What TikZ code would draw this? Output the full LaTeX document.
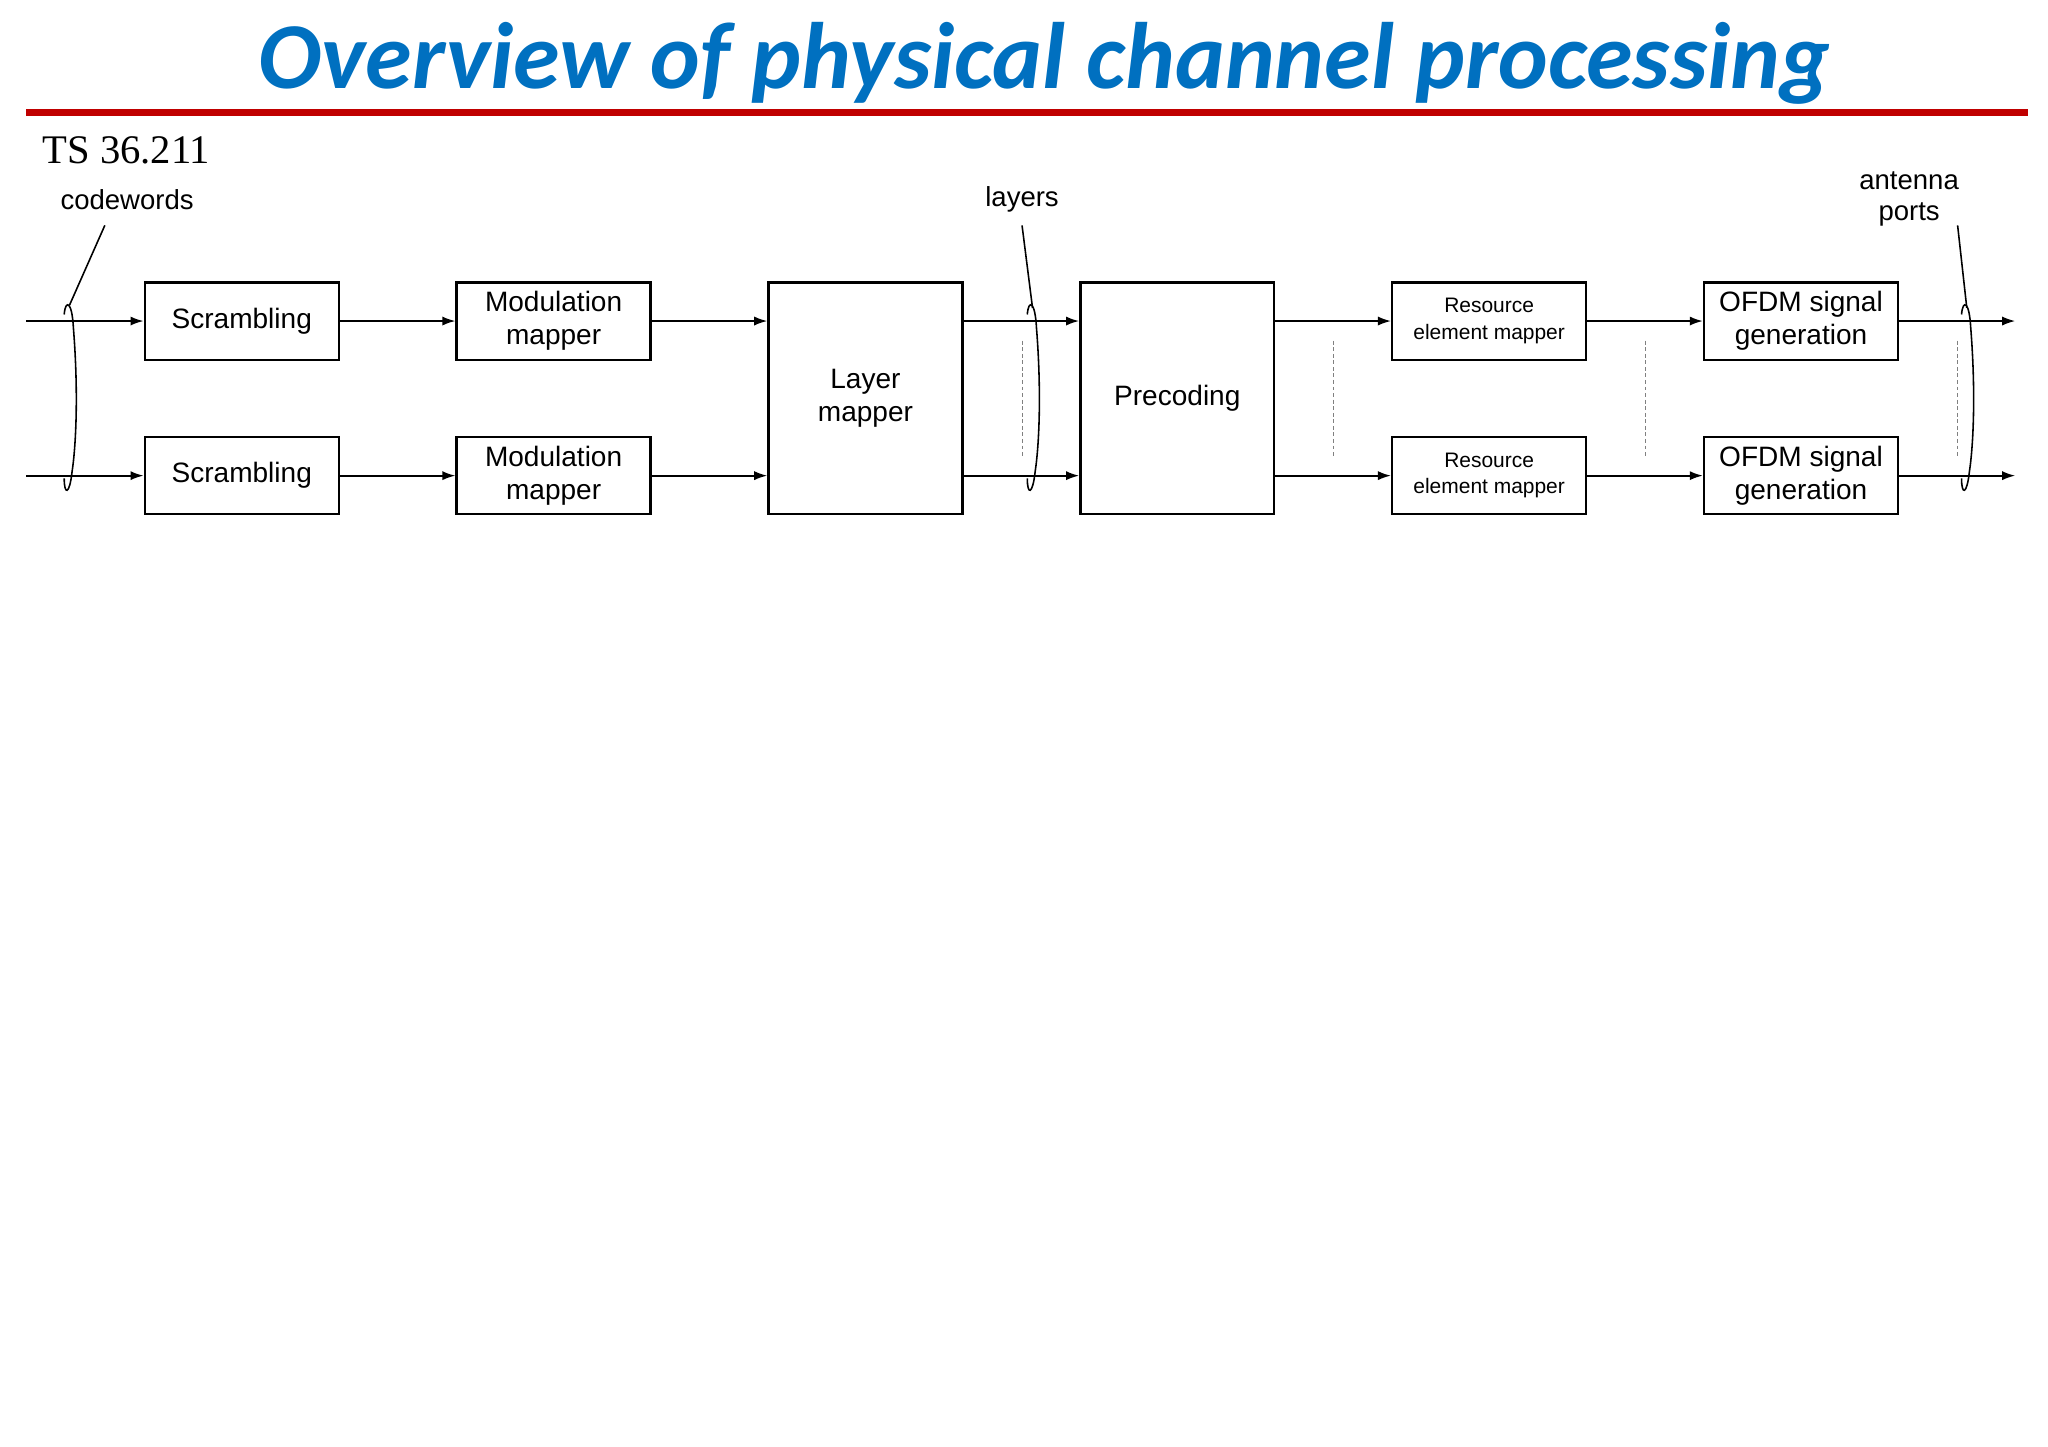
\documentclass[tikz,border=0pt]{standalone}
\usepackage{fontspec}
\setmainfont{Liberation Sans}
\newfontfamily\titlef{Carlito}
\newfontfamily\serf{Liberation Serif}
\usetikzlibrary{arrows.meta}
\definecolor{tblue}{RGB}{0,112,192}
\definecolor{tred}{RGB}{192,0,0}
\begin{document}
\begin{tikzpicture}[x=0.5pt,y=-0.5pt,
  box/.style={draw,line width=0.9pt,minimum width=74pt,minimum height=29.5pt,inner sep=0pt,align=center,font=\fontsize{10.7}{12.5}\selectfont},
  big/.style={box,minimum height=88.5pt},
  small/.style={box,font=\fontsize{8}{10}\selectfont},
  ar/.style={-{Latex[length=5pt,width=3.5pt]},line width=0.7pt},
  lbl/.style={font=\fontsize{10.5}{12}\selectfont,align=center,inner sep=0pt}]
\useasboundingbox (0,0) rectangle (1563,1104);
\node[font=\titlef\bfseries\itshape\fontsize{36}{38}\selectfont,text=tblue] (title) at (797,48) {Overview of physical channel processing};
\draw[tred,line width=2.5pt] (20,86) -- (1548,86);
\node[font=\serf\fontsize{15.5}{17}\selectfont,anchor=west,inner sep=0pt] (ts) at (32,115) {TS 36.211};
% boxes
\node[box] (s1) at (184.5,245) {Scrambling};
\node[box] (s2) at (184.5,363) {Scrambling};
\node[box] (m1) at (422.5,245) {Modulation\\mapper};
\node[box] (m2) at (422.5,363) {Modulation\\mapper};
\node[big] (lm) at (660.5,304) {Layer\\mapper};
\node[big] (pc) at (898.5,304) {Precoding};
\node[small] (r1) at (1136.5,245) {Resource\\element mapper};
\node[small] (r2) at (1136.5,363) {Resource\\element mapper};
\node[box] (o1) at (1374.5,245) {OFDM signal\\generation};
\node[box] (o2) at (1374.5,363) {OFDM signal\\generation};
\coordinate (i1) at (20,245); \coordinate (i2) at (20,363);
\coordinate (e1) at (1538,245); \coordinate (e2) at (1538,363);
% arrows
\draw[ar] (i1) -- (s1); \draw[ar] (i2) -- (s2);
\draw[ar] (s1) -- (m1); \draw[ar] (s2) -- (m2);
\draw[ar] (m1) -- (lm.west|-m1); \draw[ar] (m2) -- (lm.west|-m2);
\draw[ar] (lm.east|-m1) -- (pc.west|-m1); \draw[ar] (lm.east|-m2) -- (pc.west|-m2);
\draw[ar] (pc.east|-r1) -- (r1); \draw[ar] (pc.east|-r2) -- (r2);
\draw[ar] (r1) -- (o1); \draw[ar] (r2) -- (o2);
\draw[ar] (o1) -- (e1); \draw[ar] (o2) -- (e2);
% dotted
\foreach \x in {780,1018,1256,1494} \draw[gray,dash pattern=on 1.5pt off 1pt,line width=0.4pt] (\x,260) -- (\x,348);
% braces
\foreach \x in {52,787,1500}{
  \draw[line width=0.6pt] (\x-3,240) .. controls (\x-2,228) and (\x+3,230) .. (\x+4,250)
    .. controls (\x+8,300) and (\x+6,340) .. (\x+3,360)
    .. controls (\x+1,378) and (\x-3,378) .. (\x-3,365);
}
% labels
\node[lbl] (cw) at (97,152) {codewords};
\node[lbl] (ly) at (780,152) {layers};
\node[lbl] (ap) at (1457,152) {antenna\\ports};
\draw[line width=0.6pt] (80,172) -- (53,233);
\draw[line width=0.6pt] (780,172) -- (788,235);
\draw[line width=0.6pt] (1494,172) -- (1501,235);
\end{tikzpicture}
\end{document}
